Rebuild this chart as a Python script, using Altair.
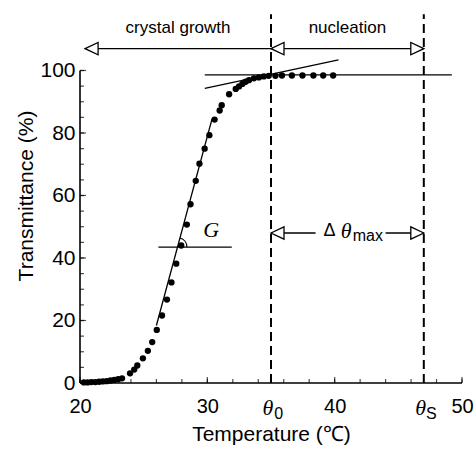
import math
import altair as alt
import pandas as pd

# ---- data ----
temp = [20.3, 20.6, 20.9, 21.2, 21.5, 21.8, 22.1, 22.4, 22.7, 23.0, 23.3,
        23.93, 24.26, 24.50, 24.94, 25.33, 25.67, 26.03, 26.44, 26.83, 27.18,
        27.56, 27.95, 28.39, 28.68, 29.09, 29.38, 29.79, 30.16, 30.57, 30.97,
        31.13, 31.71, 32.23, 32.49, 32.75, 33.01, 33.27, 33.66, 34.05, 34.44,
        34.82, 35.35, 35.86, 36.64, 37.47, 38.33, 39.1, 39.88]
trans = [0.2, 0.2, 0.3, 0.3, 0.4, 0.5, 0.6, 0.8, 1.0, 1.2, 1.5,
         3.1, 4.3, 5.6, 7.9, 10.3, 13.1, 17.0, 21.6, 26.7, 32.2,
         38.2, 44.0, 50.7, 57.2, 64.7, 70.2, 75.0, 79.3, 84.3, 87.2,
         88.9, 92.4, 94.1, 94.9, 95.7, 96.4, 96.9, 97.5, 97.8, 98.1,
         98.3, 98.3, 98.4, 98.4, 98.4, 98.4, 98.4, 98.4]

theta0 = 35.0
thetaS = 47.0

# fitted / construction lines: (x1, y1, x2, y2)
steep_line = (26.0, 18.4, 30.37, 84.5)
tangent_line = (29.8, 94.3, 40.3, 103.4)
plateau_line = (29.8, 98.6, 49.2, 98.6)
g_line = (26.16, 43.5, 31.92, 43.5)

arrow_y = 107.0
growth_start = 20.4
delta_y = 48.0
delta_gap = (38.5, 44.0)

x_ticks = list(range(20, 51, 2))
x_major = [20, 30, 40, 50]
y_ticks = list(range(0, 101, 5))
y_major = [0, 20, 40, 60, 80, 100]

W, H = 382, 375
XD = [20, 50]
YD = [0, 120]

FONT = "Liberation Sans"
xs = alt.Scale(domain=XD, nice=False, zero=False)
ys = alt.Scale(domain=YD, nice=False, zero=False)
x_axis = alt.Axis(values=x_major, format="d", ticks=False, domain=False, grid=False,
                  labelFlush=False, labelOverlap=False,
                  labelFontSize=20, labelFont=FONT, labelColor="black",
                  labelPadding=13, title="Temperature (℃)", titleFont=FONT,
                  titleFontSize=21, titleFontWeight="normal", titleColor="black",
                  titlePadding=7)
y_axis = alt.Axis(values=y_major, format="d", ticks=False, domain=False, grid=False,
                  labelFlush=False, labelOverlap=False,
                  labelFontSize=21, labelFont=FONT, labelColor="black",
                  labelPadding=5, title="Transmittance (%)", titleFont=FONT,
                  titleFontSize=21, titleFontWeight="normal", titleColor="black",
                  titlePadding=3)


def X():
    return alt.X("x:Q", scale=xs, axis=x_axis)


def Y():
    return alt.Y("y:Q", scale=ys, axis=y_axis)


# main points
pts = pd.DataFrame({"x": temp, "y": trans})
points = alt.Chart(pts).mark_circle(size=40, color="black", opacity=1).encode(x=X(), y=Y())

# axis lines
axes_df = pd.DataFrame({"x": [XD[0], XD[0]], "y": [0, 0], "x2": [XD[1], XD[0]], "y2": [0, 100]})
axis_lines = alt.Chart(axes_df).mark_rule(color="black", strokeWidth=1.6).encode(
    x=X(), y=Y(), x2="x2:Q", y2="y2:Q")

# inward ticks
xt = pd.DataFrame({"x": x_ticks, "y": [0] * len(x_ticks)})
xt_minor = alt.Chart(xt).mark_tick(orient="vertical", size=4, yOffset=-2, thickness=1.2,
                                   color="black").encode(x=X(), y=Y())
xtm = pd.DataFrame({"x": x_major, "y": [0] * len(x_major)})
xt_major = alt.Chart(xtm).mark_tick(orient="vertical", size=6, yOffset=-3, thickness=1.2,
                                    color="black").encode(x=X(), y=Y())
yt = pd.DataFrame({"x": [XD[0]] * len(y_ticks), "y": y_ticks})
yt_minor = alt.Chart(yt).mark_tick(orient="horizontal", size=4, xOffset=2, thickness=1.2,
                                   color="black").encode(x=X(), y=Y())
ytm = pd.DataFrame({"x": [XD[0]] * len(y_major), "y": y_major})
yt_major = alt.Chart(ytm).mark_tick(orient="horizontal", size=6, xOffset=3, thickness=1.2,
                                    color="black").encode(x=X(), y=Y())

# dashed verticals
dash_df = pd.DataFrame({"x": [theta0, thetaS], "y": [0, 0], "y2": [118, 118]})
dashes = alt.Chart(dash_df).mark_rule(color="black", strokeWidth=2, strokeDash=[9, 5]).encode(
    x=X(), y=Y(), y2="y2:Q")

# construction lines
segs = [steep_line, tangent_line, plateau_line, g_line]
seg_df = pd.DataFrame({"x": [s[0] for s in segs], "y": [s[1] for s in segs],
                       "x2": [s[2] for s in segs], "y2": [s[3] for s in segs]})
seg_lines = alt.Chart(seg_df).mark_rule(color="black", strokeWidth=1.3).encode(
    x=X(), y=Y(), x2="x2:Q", y2="y2:Q")

# arrows (horizontal)
arr_df = pd.DataFrame({"x": [growth_start, theta0, theta0, delta_gap[1]],
                       "x2": [theta0, thetaS, delta_gap[0], thetaS],
                       "y": [arrow_y, arrow_y, delta_y, delta_y]})
arr_lines = alt.Chart(arr_df).mark_rule(color="black", strokeWidth=1.3).encode(
    x=X(), x2="x2:Q", y=Y())

left_heads = pd.DataFrame({"x": [growth_start, theta0, theta0], "y": [arrow_y, arrow_y, delta_y]})
right_heads = pd.DataFrame({"x": [thetaS, thetaS], "y": [arrow_y, delta_y]})
lh = alt.Chart(left_heads).mark_point(shape="M0,0L2,-0.95L2,0.95Z", size=169, filled=True,
                                      fill="white", stroke="black", strokeWidth=1.3,
                                      opacity=1).encode(x=X(), y=Y())
rh = alt.Chart(right_heads).mark_point(shape="M0,0L-2,-0.95L-2,0.95Z", size=169, filled=True,
                                       fill="white", stroke="black", strokeWidth=1.3,
                                       opacity=1).encode(x=X(), y=Y())

# angle arc at the G construction
sx1, sy1, sx2, sy2 = steep_line
slope = (sy2 - sy1) / (sx2 - sx1)
gx = sx1 + (g_line[1] - sy1) / slope
px_per_x = W / (XD[1] - XD[0])
px_per_y = H / (YD[1] - YD[0])
ang = math.atan2(px_per_x * 1.0, slope * px_per_y)
arc_df = pd.DataFrame({"x": [gx], "y": [g_line[1]]})
arc = alt.Chart(arc_df).mark_arc(radius=10, radius2=8.8, theta=ang, theta2=math.pi / 2,
                                 color="black").encode(x=X(), y=Y())

# texts
labels_sans = pd.DataFrame({"x": [27.7, 41.0], "y": [113.5, 113.5],
                            "t": ["crystal growth", "nucleation"]})
txt_sans = alt.Chart(labels_sans).mark_text(font=FONT, fontSize=17, color="black").encode(
    x=X(), y=Y(), text="t:N")

g_df = pd.DataFrame({"x": [30.3], "y": [49.0], "t": ["G"]})
g_txt = alt.Chart(g_df).mark_text(font="Liberation Serif", fontStyle="italic", fontSize=22,
                                  color="black").encode(x=X(), y=Y(), text="t:N")

delta_df = pd.DataFrame({"x": [39.6], "y": [delta_y + 0.6], "t": ["Δ"]})
delta_txt = alt.Chart(delta_df).mark_text(font=FONT, fontSize=18, color="black").encode(
    x=X(), y=Y(), text="t:N")
th_df = pd.DataFrame({"x": [40.9, theta0 - 0.25, thetaS - 0.25],
                      "y": [delta_y + 0.6, -8.0, -8.0], "t": ["θ", "θ", "θ"]})
th_txt = alt.Chart(th_df).mark_text(font="Liberation Serif", fontStyle="italic", fontSize=22,
                                    color="black").encode(x=X(), y=Y(), text="t:N")
sub_df = pd.DataFrame({"x": [42.6, theta0 + 0.6, thetaS + 0.6],
                       "y": [delta_y - 1.0, -9.8, -9.8], "t": ["max", "0", "S"]})
sub_txt = alt.Chart(sub_df).mark_text(font=FONT, fontSize=16, color="black").encode(
    x=X(), y=Y(), text="t:N")

chart = alt.layer(
    dashes, seg_lines, arr_lines, lh, rh, arc, points, axis_lines,
    xt_minor, xt_major, yt_minor, yt_major,
    txt_sans, g_txt, delta_txt, th_txt, sub_txt,
).properties(
    width=W, height=H,
    autosize=alt.AutoSizeParams(type="none"),
    padding={"left": 80, "top": 8, "right": 13, "bottom": 70},
).configure(background="white").configure_view(strokeWidth=0, stroke="transparent")

chart.save("out.html", embed_options={"renderer": "svg", "actions": False})
